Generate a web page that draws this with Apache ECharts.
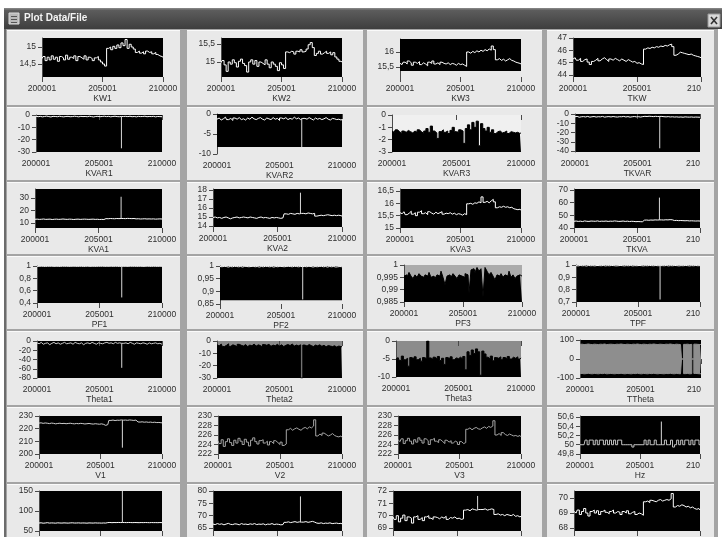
<!DOCTYPE html>
<html><head><meta charset="utf-8">
<script src="https://cdn.jsdelivr.net/npm/echarts@6/dist/echarts.min.js"></script>
<style>html,body{margin:0;padding:0;background:#fff;overflow:hidden}#c{width:722px;height:537px}</style>
</head><body><div id="c"></div>
<script>
// ---- x axis (sample numbers) ----
const xTicks = [200001, 205001, 210000];
const xTickLabels = ['200001', '205001', '210000'];
const xTickLabelsClipped = ['200001', '205001', '210'];

// ---- row 1 ----
const kw1 = [14.66,14.72,14.60,14.70,14.62,14.74,14.64,14.70,14.58,14.72,14.68,14.62,14.76,14.64,14.70,14.66,14.74,14.60,14.72,14.68,14.64,14.74,14.62,14.70,14.66,14.60,14.68,14.72,14.62,14.56,14.50,14.44,
 14.96,15.00,14.92,15.02,14.96,15.06,14.98,15.12,15.04,15.22,14.96,15.08,15.00,14.94,
 14.84,14.88,14.82,14.86,14.80,14.88,14.84,14.86,14.80,14.84,14.78,14.74,14.72,14.70];
const kw1Ticks = [14.5, 15];
const kw2 = [14.98,15.04,14.92,14.74,15.00,14.94,15.06,14.98,14.86,15.02,15.08,14.96,14.90,14.72,15.00,15.06,14.94,15.04,14.88,15.00,14.96,14.92,15.06,14.94,14.84,15.00,14.94,14.88,14.76,14.98,14.92,14.82,
 15.28,15.26,15.30,15.28,15.22,15.30,15.28,15.34,15.28,15.30,15.36,15.48,15.54,15.40,
 15.18,15.24,15.30,15.22,15.26,15.30,15.24,15.28,15.20,15.26,15.14,15.08,15.02,15.00];
const kw2Ticks = [15, 15.5];
const kw3 = [15.62,15.58,15.66,15.60,15.70,15.64,15.56,15.66,15.62,15.68,15.58,15.64,15.60,15.54,15.66,15.62,15.70,15.60,15.64,15.58,15.66,15.62,15.60,15.64,15.58,15.62,15.60,15.56,15.62,15.58,15.60,15.56,15.52,
 16.00,15.96,16.02,15.98,16.04,16.00,16.06,16.02,16.08,16.04,16.10,16.06,16.20,16.08,
 15.74,15.78,15.72,15.76,15.70,15.74,15.78,15.72,15.70,15.66,15.64,15.62,15.60];
const kw3Ticks = [15.5, 16];
const tkw = [45.30,45.40,45.20,45.35,45.10,45.25,45.30,45.05,44.85,45.10,45.20,45.35,45.15,45.30,45.40,45.25,45.10,45.30,45.20,45.35,45.25,45.15,45.30,45.20,45.10,45.25,45.15,45.05,45.10,44.95,45.00,44.90,44.85,
 46.10,46.20,46.15,46.25,46.20,46.30,46.25,46.35,46.30,46.40,46.35,46.45,46.50,46.30,
 45.60,45.70,45.85,45.80,45.75,45.70,45.65,45.70,45.60,45.55,45.50,45.45,45.40];
const tkwTicks = [44, 45, 46, 47];

// ---- row 2 ----
const kvar1 = [-1.0,-1.4,-1.1,-1.5,-1.2,-0.9,-1.3,-1.6,-1.1,-1.2,-1.4,-1.0,-1.3,-1.5,-1.2,-1.1,-1.4,-1.3,-1.0,-1.2,-1.5,-1.1,-1.3,-1.2,-1.4,-1.0,-1.3,-1.6,-1.2,-1.1,-1.4,-1.2,-1.0,-1.3,-1.1,-1.5,-1.2,-1.0,-1.3,-1.4,
 -1.2,-1.2,-1.1,-1.3,-1.0,-1.4,-1.2,-1.5,-1.1,-1.3,-1.2,-1.0,-1.4,-1.2,-1.3,-1.1,-1.5,-1.2,-1.3,-1.4];
const kvar1Spikes = [[206780, -27.0]];
const kvar1Ticks = [-30, -20, -10, 0];
const kvar2 = [-1.3,-1.0,-1.5,-1.2,-0.8,-1.4,-1.1,-1.6,-1.0,-1.3,-0.9,-1.4,-1.2,-1.5,-1.0,-1.3,-0.8,-1.2,-1.4,-1.1,-0.9,-1.3,-1.5,-1.0,-1.2,-1.4,-0.9,-1.3,-1.1,-1.6,-1.0,-1.2,-0.9,-1.4,-1.1,-1.3,-0.8,-1.2,-1.0,-1.4,
 -1.1,-1.1,-1.3,-0.9,-1.2,-1.5,-1.0,-1.3,-1.1,-1.4,-1.2,-0.9,-1.3,-1.5,-1.1,-1.2,-1.4,-1.3,-1.5,-1.4];
const kvar2Spikes = [[206780, -8.3]];
const kvar2Ticks = [-10, -5, 0];
const kvar3 = [-1.3,-1.4,-1.2,-1.35,-1.5,-1.3,-1.4,-1.25,-1.35,-1.45,-1.3,-1.4,-1.2,-1.35,-1.5,-1.3,-1.1,-1.4,-0.9,-1.3,-1.45,-1.9,-1.35,-1.2,-1.4,-1.3,-1.5,-1.25,-1.0,-1.35,-1.4,-1.2,-1.3,
 -2.3,-1.1,-0.8,-1.2,-0.6,-1.0,-0.5,-2.5,-0.7,-1.1,-1.3,-1.0,-1.4,-1.2,-1.5,-1.35,-1.3,-1.45,-1.4,-1.3,-1.5,-1.35,-1.4,-1.45,-1.4,-1.5,-1.45];
const kvar3Ticks = [-3, -2, -1, 0];
const tkvar = [-3,-2.5,-3.5,-3,-2.8,-3.2,-2.6,-3.4,-3,-2.7,-3.3,-2.9,-3.1,-2.6,-3.4,-3,-2.8,-3.2,-2.7,-3.1,-3.3,-2.9,-3,-2.6,-3.2,-2.8,-3.4,-3,-2.7,-3.1,-2.9,-3.3,-2.8,-2.5,-2.7,-2.4,-2.6,-2.8,-2.5,-2.7,
 -2.6,-2.6,-2.9,-3.1,-2.8,-3.2,-3,-3.3,-3.1,-3.4,-3.2,-3.5,-3.1,-3.3,-3.4,-3.2,-3.5,-3.3,-3.4,-3.5];
const tkvarSpikes = [[206780, -37]];
const tkvarTicks = [-40, -30, -20, -10, 0];

// ---- row 3 ----
const kva1 = [13.0,13.1,12.9,13.0,13.2,12.9,13.0,13.1,12.8,13.0,13.1,12.9,13.0,13.2,13.0,12.9,13.1,13.0,12.8,13.0,13.1,12.9,13.0,13.1,13.0,12.9,13.0,13.1,12.9,13.0,12.8,12.9,12.8,
 13.5,13.4,13.6,13.5,13.4,13.6,13.5,13.6,13.6,13.5,13.7,13.6,13.5,13.6,
 13.3,13.4,13.2,13.3,13.4,13.2,13.3,13.2,13.3,13.1,13.2,13.3,13.2];
const kva1Spikes = [[206780, 31.0]];
const kva1Ticks = [10, 20, 30];
const kva2 = [14.95,15.00,14.90,14.95,14.85,14.95,15.00,14.90,14.80,14.90,14.95,15.00,14.90,14.95,15.00,14.95,14.90,15.00,14.95,14.90,14.85,14.95,15.00,14.90,14.95,14.90,14.85,14.95,14.90,14.95,14.90,14.85,14.90,
 15.35,15.30,15.40,15.35,15.30,15.40,15.35,15.40,15.40,15.35,15.45,15.40,15.35,15.40,
 15.10,15.15,15.20,15.15,15.20,15.25,15.20,15.15,15.20,15.15,15.20,15.15,15.10];
const kva2Spikes = [[206780, 17.7]];
const kva2Ticks = [14, 15, 16, 17, 18];
const kva3 = [15.62,15.58,15.66,15.54,15.60,15.68,15.56,15.62,15.50,15.64,15.70,15.58,15.62,15.54,15.66,15.60,15.56,15.64,15.58,15.62,15.66,15.56,15.60,15.58,15.62,15.56,15.60,15.54,15.58,15.56,15.52,15.58,15.54,
 15.98,16.00,15.96,16.02,16.00,16.06,16.02,16.26,16.04,16.08,16.02,16.10,16.16,16.06,
 15.82,15.86,15.84,15.88,15.84,15.86,15.82,15.84,15.78,15.76,15.74,15.76,15.72];
const kva3Ticks = [15, 15.5, 16, 16.5];
const tkva = [45.3,45.5,45.2,45.4,45.1,45.6,45.3,45.2,45.5,45.4,45.3,45.6,45.2,45.4,45.3,45.5,45.2,45.4,45.3,45.6,45.4,45.2,45.3,45.5,45.2,45.4,45.1,45.3,45.2,45.0,45.1,45.0,44.9,
 46.2,46.3,46.1,46.3,46.2,46.4,46.3,46.4,46.4,46.3,46.5,46.4,46.6,46.5,
 45.9,46.0,45.8,45.9,45.8,45.7,45.8,45.6,45.7,45.6,45.5,45.6,45.5];
const tkvaSpikes = [[206780, 64.0]];
const tkvaTicks = [40, 50, 60, 70];

// ---- row 4 ----
const pf1 = [0.996,0.994,0.997,0.995,0.993,0.996,0.995,0.997,0.994,0.996,0.995,0.993,0.997,0.995,0.996,0.994,0.995,0.997,0.996,0.994,0.995,0.996,0.993,0.995,0.997,0.994,0.996,0.995,0.994,0.996,0.995,0.997,0.994,0.996,0.995,0.997,0.994,0.996,0.995,0.993,
 0.995,0.995,0.996,0.994,0.997,0.995,0.996,0.994,0.995,0.996,0.994,0.995,0.997,0.995,0.994,0.996,0.995,0.994,0.996,0.995];
const pf1Spikes = [[206780, 0.49]];
const pf1Ticks = [0.4, 0.6, 0.8, 1];
const pf2 = [0.998,0.997,0.999,0.998,0.996,0.998,0.997,0.999,0.998,0.997,0.998,0.996,0.999,0.998,0.997,0.998,0.999,0.997,0.998,0.996,0.998,0.997,0.999,0.998,0.997,0.998,0.996,0.998,0.997,0.999,0.998,0.997,0.998,0.999,0.998,0.997,0.999,0.998,0.997,0.998,
 0.998,0.998,0.997,0.999,0.998,0.996,0.998,0.997,0.998,0.999,0.997,0.998,0.996,0.998,0.997,0.998,0.996,0.997,0.998,0.997];
const pf2Spikes = [[206780, 0.868]];
const pf2Ticks = [0.85, 0.9, 0.95, 1];
const pf3 = [0.9955,0.9960,0.9950,0.9970,0.9955,0.9945,0.9960,0.9950,0.9965,0.9955,0.9950,0.9960,0.9955,0.9970,0.9950,0.9955,0.9945,0.9960,0.9955,0.9975,0.9950,0.9920,0.9955,0.9960,0.9950,0.9965,0.9955,0.9945,0.9960,0.9955,0.9950,0.9965,0.9960,
 0.9885,0.9980,0.9985,0.9970,0.9990,0.9975,0.9985,0.9870,0.9990,0.9975,0.9960,0.9970,0.9955,0.9940,0.9960,0.9955,0.9965,0.9950,0.9960,0.9955,0.9975,0.9950,0.9960,0.9945,0.9955,0.9960,0.9955];
const pf3Ticks = [0.985, 0.99, 0.995, 1];
const tpf = [0.995,0.993,0.996,0.994,0.995,0.992,0.996,0.994,0.995,0.993,0.996,0.995,0.994,0.996,0.993,0.995,0.994,0.996,0.995,0.993,0.994,0.996,0.995,0.993,0.995,0.994,0.996,0.993,0.995,0.994,0.996,0.995,0.993,0.995,0.994,0.996,0.995,0.994,0.996,0.994,
 0.995,0.995,0.994,0.996,0.993,0.995,0.994,0.996,0.995,0.993,0.995,0.994,0.996,0.995,0.993,0.995,0.994,0.996,0.994,0.995];
const tpfSpikes = [[206780, 0.72]];
const tpfTicks = [0.7, 0.8, 0.9, 1];

// ---- row 5 ----
const theta1 = [-4,-6,-3,-7,-5,-4,-8,-5,-3,-6,-4,-7,-5,-3,-6,-5,-4,-7,-3,-5,-6,-4,-8,-5,-4,-6,-3,-5,-7,-4,-5,-6,-4,-3,-5,-4,-6,-3,-5,-4,
 -5,-5,-4,-6,-3,-5,-7,-4,-5,-6,-4,-5,-7,-4,-6,-5,-4,-6,-5,-7];
const theta1Spikes = [[206780, -58]];
const theta1Ticks = [-80, -60, -40, -20, 0];
const theta2 = [-3,-4,-2.5,-4.5,-3.5,-2.3,-4.3,-3.1,-3.7,-4.7,-2.7,-3.5,-4.1,-2.9,-4.5,-3.3,-3.9,-2.5,-4.1,-3.1,-3.7,-4.9,-2.9,-3.5,-2.7,-4.3,-3.3,-3.9,-2.7,-4.1,-3.1,-4.5,-3.5,-2.9,-3.7,-2.5,-4.1,-3.3,-3.9,-3.1,
 -30,-3.3,-4.1,-2.9,-3.7,-4.5,-3.3,-3.9,-3.1,-4.3,-3.5,-4.7,-3.7,-4.1,-4.5,-3.9,-4.9,-4.1,-4.5,-4.7];
const theta2Ticks = [-30, -20, -10, 0];
const theta3 = [-5.0,-4.6,-5.4,-4.2,-5.2,-4.8,-7.0,-4.6,-5.0,-4.4,-5.2,-4.8,-5.6,-4.6,-4.9,0.0,-4.7,-5.1,-4.5,-5.0,-4.3,-5.4,-4.8,-6.5,-4.6,-5.0,-4.4,-5.2,-4.7,-4.9,-4.5,-5.0,-4.3,
 -8.0,-3.0,-4.0,-2.5,-3.5,-2.2,-3.0,-9.5,-2.8,-3.6,-4.5,-5.0,-4.2,-5.5,-4.6,-4.8,-4.4,-5.2,-4.6,-4.9,-4.3,-5.0,-4.5,-4.8,-4.4,-5.0,-4.7];
const theta3Ticks = [-10, -5, 0];
const tthetaUpper = [77,78,76,77,79,77,76,78,77,76,78,77,79,76,77,78,77,76,78,77,79,77,76,78,77,76,78,77,79,77,76,78,77,76,78,77,79,77,76,78,77,76,78,77,79,77,76,78,77,76,0,77,78,76,77,0,78,77,76,77];
const tthetaLower = [-77,-76,-78,-77,-75,-77,-78,-76,-77,-78,-76,-77,-75,-78,-77,-76,-77,-78,-76,-77,-75,-77,-78,-76,-77,-78,-76,-77,-75,-77,-78,-76,-77,-78,-76,-77,-75,-77,-78,-76,-77,-78,-76,-77,-75,-77,-78,-76,-77,-78,0,-77,-76,-78,-77,0,-76,-77,-78,-77];
const tthetaTicks = [-100, 0, 100];

// ---- row 6 ----
const v1 = [224.4,224.6,224.2,224.5,224.3,224.0,224.4,224.2,223.8,224.1,224.3,224.0,224.2,223.9,224.1,224.3,224.0,223.8,224.1,223.9,224.2,224.0,223.7,223.9,224.1,223.8,223.6,223.9,223.7,223.5,223.8,223.4,222.6,223.2,
 226.5,226.8,226.4,226.7,226.6,226.9,226.7,226.8,226.6,226.9,226.7,226.5,226.8,
 225.3,225.2,225.4,225.1,225.3,225.0,225.2,224.9,225.1,224.8,224.9,224.7,224.6];
const v1Spikes = [[206780, 205.0]];
const v1Ticks = [200, 210, 220, 230];
const v2 = [224.8,224.2,225.0,223.6,224.6,225.2,224.4,223.8,224.9,224.3,225.3,224.7,224.0,225.1,224.5,223.7,224.9,225.4,224.6,224.1,224.8,225.0,224.3,224.7,223.9,224.6,224.2,224.8,224.4,224.0,224.5,223.8,224.1,
 227.1,227.4,227.0,227.3,227.5,227.2,227.0,227.4,227.6,227.3,227.7,227.5,227.9,229.2,
 225.8,226.2,225.9,226.4,226.1,225.8,226.0,226.3,225.9,225.7,225.6,225.8,225.5];
const v2Ticks = [222, 224, 226, 228, 230];
const v3 = [225.0,224.6,225.2,224.2,224.8,225.3,224.7,224.1,225.0,224.5,225.4,224.9,224.3,225.2,224.8,224.0,225.0,225.3,224.7,224.4,225.0,224.6,224.2,224.9,224.5,224.8,224.3,224.7,224.5,224.0,224.6,224.2,224.4,
 227.2,227.5,227.1,227.4,227.6,227.3,227.2,227.5,227.7,227.4,227.8,227.6,227.9,229.0,
 226.0,226.3,225.9,226.5,226.1,225.9,226.2,226.0,225.8,225.9,225.7,225.9,225.6];
const v3Ticks = [222, 224, 226, 228, 230];
const hz = [50.0,50.0,50.0,50.1,50.0,50.1,50.1,50.0,50.1,50.0,50.1,50.1,50.0,50.1,50.0,50.1,50.0,50.1,50.0,50.1,50.1,50.0,50.0,50.0,50.0,50.0,49.95,50.0,50.0,50.0,50.0,50.0,50.1,50.0,50.1,50.0,50.0,50.1,50.0,50.0,
 50.0,50.0,50.1,50.0,50.0,50.1,49.95,50.0,50.1,50.0,50.1,50.0,50.1,50.1,50.0,50.1,50.0,50.1,50.1,50.0];
const hzSpikes = [[206780, 50.5]];
const hzTicks = [49.8, 50, 50.2, 50.4, 50.6];

// ---- row 7 (titles cut off) ----
const i1 = [70,70.5,69.5,70,70.8,69.8,70.2,70,69.6,70.4,70,69.8,70.3,70,69.7,70.2,70.5,69.9,70,70.3,69.8,70.1,70,69.6,70.2,70,69.8,70.3,69.9,70,69.7,70.1,69.8,
 71,71.3,70.8,71.2,71,71.4,71.1,71.2,71.2,71,71.3,71.1,70.9,71.2,71,70.8,71.1,70.9,71.2,71,70.8,71.1,70.9,71,70.8,71.1,70.9];
const i1Spikes = [[206780, 150]];
const i1Ticks = [50, 100, 150];
const i2 = [66.6,66.4,66.8,66.5,66.7,66.3,66.6,66.9,66.5,66.4,66.7,66.6,66.3,66.8,66.5,66.6,66.4,66.7,66.5,66.8,66.4,66.6,66.5,66.7,66.3,66.6,66.5,66.8,66.4,66.6,66.5,66.3,66.4,
 67.3,67.5,67.2,67.4,67.6,67.3,67.5,67.4,67.4,67.6,67.3,67.5,67.7,67.4,
 67.0,66.9,67.1,66.8,67.0,66.9,67.1,66.8,66.9,67.0,66.8,66.9,66.7];
const i2Spikes = [[206780, 77.8]];
const i2Ticks = [65, 70, 75, 80];
const i3 = [69.9,69.7,70.0,69.5,69.8,70.05,69.6,69.9,69.8,69.4,69.9,70.0,69.7,69.85,69.6,69.9,70.0,69.8,69.7,69.9,69.85,69.75,69.9,69.8,69.95,69.7,69.85,69.8,69.9,69.75,69.8,69.7,69.75,
 70.45,70.5,70.4,70.55,70.5,70.45,70.5,70.5,70.5,70.55,70.45,70.5,70.55,70.5,
 70.1,70.15,70.05,70.1,70.0,70.1,70.05,70.0,70.1,69.95,70.0,69.9,69.95];
const i3Spikes = [[206610, 71.6]];
const i3Ticks = [69, 70, 71, 72];
const ti = [69.1,69.0,69.2,68.9,69.1,69.3,69.0,68.8,69.1,69.2,69.0,69.15,68.9,69.1,69.2,69.05,68.95,69.1,69.2,69.0,69.1,69.05,68.9,69.1,69.0,69.15,68.95,69.05,69.1,68.9,69.0,68.95,68.85,
 69.75,69.8,69.7,69.85,69.8,69.75,69.85,69.9,69.8,69.85,69.9,69.85,69.95,70.3,
 69.4,69.5,69.45,69.55,69.5,69.4,69.45,69.35,69.4,69.3,69.25,69.3,69.2];
const tiTicks = [68, 69, 70];

// ---- layout / style (not data) ----
const FONT = "'Liberation Sans',sans-serif";
const FS = 8.5;
const plots = [
 {t:'KW1', d:kw1, tk:kw1Ticks, box:[42,38,163,77], yr:[14.118,15.265], line:'#fff'},
 {t:'KW2', d:kw2, tk:kw2Ticks, box:[221,38,342,77], yr:[14.583,15.667], line:'#fff'},
 {t:'KW3', d:kw3, tk:kw3Ticks, box:[400,39,521,77], yr:[15.167,16.433], line:'#fff', band:[15.367,16.433]},
 {t:'TKW', d:tkw, tk:tkwTicks, box:[573,38,701,77], yr:[43.84,47], line:'#fff'},
 {t:'KVAR1', d:kvar1, sp:kvar1Spikes, tk:kvar1Ticks, box:[36,115,162,152], yr:[-30,0], line:'#fff'},
 {t:'KVAR2', d:kvar2, sp:kvar2Spikes, tk:kvar2Ticks, box:[217,114,342,154], yr:[-10,0], line:'#fff', band:[-8.25,0]},
 {t:'KVAR3', d:kvar3, tk:kvar3Ticks, box:[392,115,521,152], yr:[-3,0], bg:'#f0f0f0', fill:true},
 {t:'TKVAR', d:tkvar, sp:tkvarSpikes, tk:tkvarTicks, box:[575,114,700,152], yr:[-41,0], line:'#fff'},
 {t:'KVA1', d:kva1, sp:kva1Spikes, tk:kva1Ticks, box:[35,189,162,228], yr:[6,37.2], line:'#fff'},
 {t:'KVA2', d:kva2, sp:kva2Spikes, tk:kva2Ticks, box:[213,189,342,227], yr:[13.89,18.11], line:'#fff'},
 {t:'KVA3', d:kva3, tk:kva3Ticks, box:[400,189,521,228], yr:[15,16.58], line:'#fff'},
 {t:'TKVA', d:tkva, sp:tkvaSpikes, tk:tkvaTicks, box:[574,189,700,228], yr:[40,70.8], line:'#fff'},
 {t:'PF1', d:pf1, sp:pf1Spikes, tk:pf1Ticks, box:[37,266,162,303], yr:[0.4,1.0], line:'#fff'},
 {t:'PF2', d:pf2, sp:pf2Spikes, tk:pf2Ticks, box:[220,266,342,304], yr:[0.85,1.0], line:'#fff', band:[0.865,1.0]},
 {t:'PF3', d:pf3, tk:pf3Ticks, box:[404,265,522,302], yr:[0.985,1.0], bg:'#ababab', fill:true},
 {t:'TPF', d:tpf, sp:tpfSpikes, tk:tpfTicks, box:[576,265,700,302], yr:[0.7,1.0], line:'#fff'},
 {t:'Theta1', d:theta1, sp:theta1Spikes, tk:theta1Ticks, box:[37,341,162,378], yr:[-80,0], line:'#d0d0d0'},
 {t:'Theta2', d:theta2, tk:theta2Ticks, box:[217,341,342,378], yr:[-30,0], bg:'#8a8a8a', fill:true},
 {t:'Theta3', d:theta3, tk:theta3Ticks, box:[396,341,521,377], yr:[-10,0], bg:'#8c8c8c', fill:true},
 {t:'TTheta', d:tthetaUpper, d2:tthetaLower, tk:tthetaTicks, box:[580,340,701,378], yr:[-100,100], twoSided:'#8e8e8e'},
 {t:'V1', d:v1, sp:v1Spikes, tk:v1Ticks, box:[39,416,162,454], yr:[200,230], line:'#cfcfcf'},
 {t:'V2', d:v2, tk:v2Ticks, box:[218,416,342,454], yr:[222,230], line:'#a6a6a6'},
 {t:'V3', d:v3, tk:v3Ticks, box:[398,416,521,454], yr:[222,230], line:'#a6a6a6'},
 {t:'Hz', d:hz, sp:hzSpikes, tk:hzTicks, box:[580,416,700,454], yr:[49.8,50.62], line:'#c4c4c4'},
 {t:'', d:i1, sp:i1Spikes, tk:i1Ticks, box:[39,491,162,531], yr:[50,150], line:'#fff'},
 {t:'', d:i2, sp:i2Spikes, tk:i2Ticks, box:[213,491,342,531], yr:[63.8,80], line:'#fff'},
 {t:'', d:i3, sp:i3Spikes, tk:i3Ticks, box:[393,491,521,531], yr:[68.76,72], line:'#fff'},
 {t:'', d:ti, tk:tiTicks, box:[574,491,700,531], yr:[67.8,70.47], line:'#fff'}
];

const X0 = xTicks[0], X1 = xTicks[xTicks.length - 1];
function sampleX(i, n) { return X0 + i * (X1 - X0) / (n - 1); }
function toPairs(arr) { return arr.map((v, i) => [sampleX(i, arr.length), v]); }
function baseAt(arr, x) {
  const i = Math.round((x - X0) / (X1 - X0) * (arr.length - 1));
  return arr[Math.max(0, Math.min(arr.length - 1, i))];
}
function fmtY(v) { return String(+(+v).toFixed(4)).replace('.', ','); }

const PANEL = '#e9e9e9', TXT = '#2e2e2e', AX = '#4a4a4a';
const grids = [], xAxes = [], yAxes = [], series = [];
plots.forEach((p, k) => {
  const [l, t, r, b] = p.box;
  const clipped = (k % 4) === 3;
  grids.push({left: l, top: t, width: r - l, height: b - t, show: true, outerBoundsMode: 'none', containLabel: false,
    backgroundColor: p.band ? PANEL : (p.bg || '#000'), borderWidth: 0});
  const labels = clipped ? xTickLabelsClipped : xTickLabels;
  xAxes.push({type: 'value', gridIndex: k, min: X0, max: X1,
    name: p.t, nameLocation: 'middle', nameGap: 17,
    nameTextStyle: {fontSize: FS, color: TXT, fontFamily: FONT},
    axisLine: {show: false}, splitLine: {show: false},
    axisTick: {show: true, length: 5, customValues: xTicks, lineStyle: {color: AX}},
    axisLabel: {show: true, customValues: xTicks, margin: 7, fontSize: FS, color: TXT, fontFamily: FONT,
      formatter: function (v) {
        let idx = 0, best = Infinity;
        xTicks.forEach((x, j) => { if (Math.abs(x - v) < best) { best = Math.abs(x - v); idx = j; } });
        const s = labels[idx];
        return (clipped && idx === xTicks.length - 1) ? '{c|' + s + '}' : s;
      },
      rich: {c: {fontSize: FS, color: TXT, fontFamily: FONT, padding: [0, 14, 0, 0]}}
    }
  });
  yAxes.push({type: 'value', gridIndex: k, min: p.yr[0], max: p.yr[1],
    axisLine: {show: true, lineStyle: {color: AX, width: 1}}, splitLine: {show: false},
    axisTick: {show: true, length: 4, customValues: p.tk, lineStyle: {color: AX}},
    axisLabel: {show: true, customValues: p.tk, margin: 6, fontSize: FS, color: TXT, fontFamily: FONT, formatter: fmtY}
  });
  if (p.band) {
    series.push({type: 'line', xAxisIndex: k, yAxisIndex: k, data: [], z: 1, silent: true,
      markArea: {silent: true, itemStyle: {color: '#000', borderWidth: 0},
        data: [[{xAxis: X0, yAxis: p.band[1]}, {xAxis: X1, yAxis: p.band[0]}]]}});
  }
  if (p.twoSided) {
    [p.d, p.d2].forEach(arr => series.push({type: 'line', xAxisIndex: k, yAxisIndex: k, data: toPairs(arr),
      step: 'middle', showSymbol: false, symbol: 'none', z: 3, silent: true,
      lineStyle: {color: p.twoSided, width: 1},
      areaStyle: {color: p.twoSided, opacity: 1, origin: 0}}));
  } else if (p.fill) {
    series.push({type: 'line', xAxisIndex: k, yAxisIndex: k, data: toPairs(p.d),
      step: 'middle', showSymbol: false, symbol: 'none', z: 3, silent: true,
      lineStyle: {color: '#000', width: 1},
      areaStyle: {color: '#000', opacity: 1, origin: 'start'}});
  } else {
    series.push({type: 'line', xAxisIndex: k, yAxisIndex: k, data: toPairs(p.d),
      step: 'middle', showSymbol: false, symbol: 'none', z: 3, silent: true,
      lineStyle: {color: p.line, width: 1}});
  }
  (p.sp || []).forEach(s => {
    series.push({type: 'line', xAxisIndex: k, yAxisIndex: k,
      data: [[s[0], baseAt(p.d, s[0])], [s[0], s[1]]],
      showSymbol: false, symbol: 'none', z: 4, silent: true,
      lineStyle: {color: '#d8d8d8', width: 1}});
  });
});

// ---- window chrome ----
const cols = [[7,180],[187,363],[367,542],[547,714]];
const rows = [[30,105],[107,180],[182,254],[256,329],[331,405],[407,482],[484,540]];
const graphics = [
  {type: 'rect', z: -10, shape: {x: 4, y: 29, width: 714, height: 510}, style: {fill: '#a4a4a4'}},
  {type: 'rect', z: -9, shape: {x: 4, y: 29, width: 2, height: 510}, style: {fill: '#6c6c6c'}},
  {type: 'rect', z: -9, shape: {x: 4, y: 8, width: 718, height: 21},
    style: {fill: {type: 'linear', x: 0, y: 0, x2: 0, y2: 1, colorStops: [
      {offset: 0, color: '#8c8c8c'}, {offset: 0.12, color: '#5c5c5c'}, {offset: 1, color: '#3e3e3e'}]}}},
  {type: 'rect', z: -8, shape: {x: 9, y: 13, width: 10, height: 11}, style: {fill: '#b9b9b9', stroke: '#dcdcdc', lineWidth: 1}},
  {type: 'rect', z: -7, shape: {x: 11, y: 16, width: 6, height: 1}, style: {fill: '#555'}},
  {type: 'rect', z: -7, shape: {x: 11, y: 19, width: 6, height: 1}, style: {fill: '#555'}},
  {type: 'rect', z: -7, shape: {x: 11, y: 22, width: 6, height: 1}, style: {fill: '#555'}},
  {type: 'text', z: -7, x: 24, y: 13, style: {text: 'Plot Data/File', fill: '#f4f4f4', font: 'bold 10px "Liberation Sans", sans-serif'}},
  {type: 'rect', z: -8, shape: {x: 708, y: 14, width: 12, height: 13}, style: {fill: '#d9d9d9', stroke: '#9a9a9a', lineWidth: 1}},
  {type: 'line', z: -7, shape: {x1: 711, y1: 17, x2: 717, y2: 24}, style: {stroke: '#333', lineWidth: 1.6}},
  {type: 'line', z: -7, shape: {x1: 717, y1: 17, x2: 711, y2: 24}, style: {stroke: '#333', lineWidth: 1.6}}
];
cols.forEach(c => rows.forEach(r => {
  graphics.push({type: 'rect', z: -9, shape: {x: c[0], y: r[0], width: c[1] - c[0], height: r[1] - r[0]},
    style: {fill: PANEL}});
  graphics.push({type: 'rect', z: -8, shape: {x: c[0], y: r[0], width: c[1] - c[0], height: 1},
    style: {fill: '#fafafa'}});
}));

const chart = echarts.init(document.getElementById('c'), null, {renderer: 'canvas'});
chart.setOption({
  animation: false,
  backgroundColor: '#ffffff',
  textStyle: {fontFamily: FONT},
  graphic: {elements: graphics},
  grid: grids, xAxis: xAxes, yAxis: yAxes, series: series
});
</script>
</body></html>
